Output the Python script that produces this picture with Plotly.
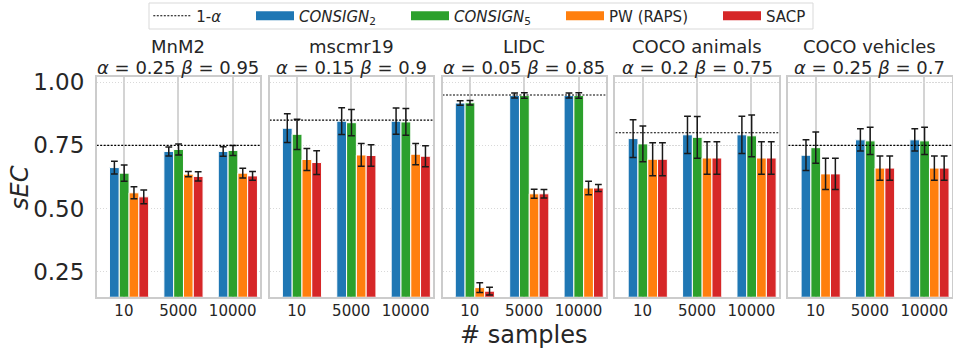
import plotly.graph_objects as go

# ---- data ----
sample_sizes = ["10", "5000", "10000"]
datasets = ["MnM2", "mscmr19", "LIDC", "COCO animals", "COCO vehicles"]
alphas = [0.25, 0.15, 0.05, 0.2, 0.25]
betas = [0.95, 0.9, 0.85, 0.75, 0.7]

method_names = ["<i>CONSIGN</i><sub>2</sub>", "<i>CONSIGN</i><sub>5</sub>", "PW (RAPS)", "SACP"]
method_colors = ["#1f77b4", "#2ca02c", "#ff7f0e", "#d62728"]

# mean sEC per dataset, one list per method (over sample sizes 10 / 5000 / 10000)
consign2_mean = [[0.662, 0.726, 0.726], [0.818, 0.846, 0.846], [0.918, 0.948, 0.948],
                 [0.777, 0.792, 0.792], [0.711, 0.772, 0.772]]
consign5_mean = [[0.640, 0.734, 0.730], [0.794, 0.840, 0.843], [0.919, 0.948, 0.948],
                 [0.756, 0.782, 0.788], [0.741, 0.768, 0.768]]
pw_raps_mean = [[0.562, 0.636, 0.640], [0.694, 0.712, 0.715], [0.186, 0.558, 0.581],
                [0.695, 0.700, 0.700], [0.637, 0.660, 0.660]]
sacp_mean = [[0.546, 0.627, 0.629], [0.682, 0.710, 0.707], [0.172, 0.558, 0.581],
             [0.695, 0.700, 0.700], [0.637, 0.660, 0.660]]

# error bar half-lengths
consign2_err = [[0.025, 0.018, 0.019], [0.057, 0.053, 0.052], [0.009, 0.010, 0.010],
                [0.075, 0.074, 0.074], [0.061, 0.044, 0.044]]
consign5_err = [[0.032, 0.022, 0.020], [0.060, 0.052, 0.053], [0.009, 0.011, 0.011],
                [0.071, 0.083, 0.083], [0.062, 0.054, 0.054]]
pw_raps_err = [[0.024, 0.010, 0.019], [0.044, 0.045, 0.042], [0.019, 0.018, 0.027],
               [0.065, 0.064, 0.064], [0.062, 0.048, 0.048]]
sacp_err = [[0.027, 0.018, 0.017], [0.047, 0.043, 0.042], [0.015, 0.017, 0.014],
            [0.065, 0.064, 0.064], [0.062, 0.048, 0.048]]

y_ticks = [0.25, 0.50, 0.75, 1.00]

means = [consign2_mean, consign5_mean, pw_raps_mean, sacp_mean]
errs = [consign2_err, consign5_err, pw_raps_err, sacp_err]

# ---- layout geometry (figure pixels) ----
W, H = 953, 351
TEXT = "#262626"
GRID = "#cccccc"
FONT = "DejaVu Sans"


def fx(px):
    return px / W


def fy(py):
    return 1 - py / H


panel_left0, panel_pitch, panel_w = 96.7, 172.9, 163.2
plot_top, plot_bottom = 77.3, 296.7
bar_w = 0.18
bar_offsets = [-0.265, -0.085, 0.095, 0.275]

fig = go.Figure()
xpos = list(range(len(sample_sizes)))

for p, name in enumerate(datasets):
    ax = "" if p == 0 else str(p + 1)
    for m in range(4):
        fig.add_trace(go.Bar(
            x=xpos, y=means[m][p],
            width=bar_w, offset=bar_offsets[m],
            marker=dict(color=method_colors[m], line=dict(color="white", width=1)),
            error_y=dict(type="data", array=errs[m][p], color="#1a1a1a",
                         thickness=1.5, width=3.4),
            showlegend=False, xaxis="x" + ax, yaxis="y" + ax,
        ))
    # target coverage line 1 - alpha
    fig.add_trace(go.Scatter(
        x=[-0.5, 2.5], y=[1 - alphas[p]] * 2, mode="lines",
        line=dict(color="black", width=1.1, dash="2px,1.5px"),
        showlegend=False, hoverinfo="skip", xaxis="x" + ax, yaxis="y" + ax,
    ))

    x0 = panel_left0 + p * panel_pitch
    axis_common = dict(showline=True, linecolor=GRID, linewidth=1.5, mirror=True,
                       zeroline=False)
    fig.layout["xaxis" + ax] = dict(
        domain=[fx(x0), fx(x0 + panel_w)], anchor="y" + ax,
        range=[-0.5, 2.5], tickvals=xpos, ticktext=sample_sizes,
        tickfont=dict(family=FONT, size=15, color=TEXT), ticks="", ticklabelstandoff=0,
        gridcolor="#d4d4d4", gridwidth=1.5, **axis_common,
    )
    fig.layout["yaxis" + ax] = dict(
        domain=[fy(plot_bottom), fy(plot_top)], anchor="x" + ax,
        range=[0.15, 1.02], tickvals=y_ticks, ticktext=[f"{v:.2f}" for v in y_ticks],
        showticklabels=(p == 0), tickfont=dict(family=FONT, size=23, color=TEXT),
        ticks="", ticklabelstandoff=6, gridcolor="#d9d9d9", griddash="1.5px,1.5px",
        gridwidth=1, **axis_common,
    )
    cx = fx(x0 + panel_w / 2)
    fig.add_annotation(x=cx, y=fy(46.5), xref="paper", yref="paper", text=name,
                       showarrow=False, xanchor="center", yanchor="middle",
                       font=dict(family=FONT, size=18, color=TEXT))
    fig.add_annotation(x=cx, y=fy(67.5), xref="paper", yref="paper",
                       text=f"<i>α</i> = {alphas[p]} <i>β</i> = {betas[p]}",
                       showarrow=False, xanchor="center", yanchor="middle",
                       font=dict(family=FONT, size=18, color=TEXT))

fig.add_annotation(x=fx(panel_left0 + 2 * panel_pitch + panel_w / 2), y=fy(335),
                   xref="paper", yref="paper", text="# samples", showarrow=False,
                   xanchor="center", yanchor="middle", borderpad=0,
                   font=dict(family=FONT, size=24, color=TEXT))

fig.add_annotation(x=fx(20), y=fy(188), xref="paper", yref="paper", text="<i>sEC</i>",
                   textangle=-90, showarrow=False, xanchor="center", yanchor="middle",
                   font=dict(family=FONT, size=24, color=TEXT))

# ---- legend: one legend per entry, laid out in a single framed row ----
legend_entries = [("1-<i>α</i>", "black", 1.1, "2px,1.5px")] + \
                 [(n, c, 9, "solid") for n, c in zip(method_names, method_colors)]
legend_x = [153.3, 256, 411, 566, 723]
for i, (label, color, lw, dash) in enumerate(legend_entries):
    key = "legend" if i == 0 else f"legend{i + 1}"
    fig.add_trace(go.Scatter(x=[None], y=[None], mode="lines", name=label,
                             line=dict(color=color, width=lw, dash=dash),
                             legend=key, showlegend=True))
    fig.layout[key] = dict(x=fx(legend_x[i] - 5), y=fy(16), xanchor="left", yanchor="middle",
                           orientation="h", bgcolor="rgba(0,0,0,0)", borderwidth=0,
                           itemwidth=38,
                           font=dict(family=FONT, size=15, color=TEXT))

fig.add_shape(type="rect", xref="paper", yref="paper",
              x0=fx(149), x1=fx(813), y0=fy(29), y1=fy(3),
              line=dict(color="#d9d9d9", width=1), fillcolor="rgba(0,0,0,0)", layer="below")

fig.update_layout(
    width=W, height=H, barmode="overlay",
    margin=dict(l=0, r=0, t=0, b=0, autoexpand=False),
    paper_bgcolor="white", plot_bgcolor="white",
    font=dict(family=FONT, color=TEXT),
)

fig.write_html("out.html")
